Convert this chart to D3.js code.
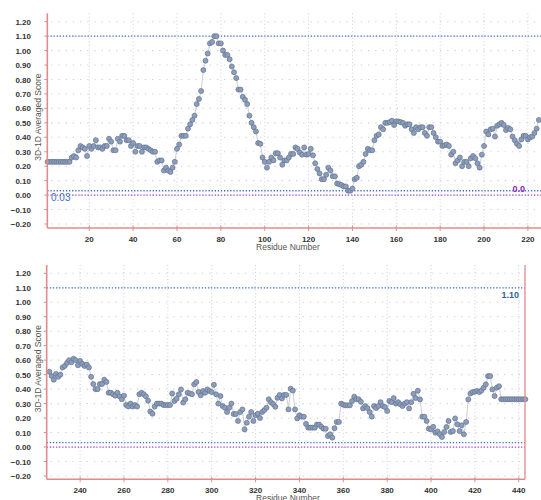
<!DOCTYPE html>
<html>

<head>
    <meta charset="utf-8">
    <style>
    body {
        margin: 0;
        background: #fff;
    }

    svg text {
        font-family: "Liberation Sans", Arial, sans-serif;
    }

    .tick-label {
        font-size: 8px;
        font-weight: bold;
        fill: #333;
    }

    .axis-title {
        font-size: 8.5px;
        fill: #555;
    }
    </style>
</head>

<body>
    <script src="https://d3js.org/d3.v7.min.js"></script>
    <script>
    // 3D-1D averaged score per residue, top panel starts at residue 1, bottom at 226
    var topStart = 1;
    var topScores = [
        0.23, 0.23, 0.23, 0.23, 0.23, 0.23, 0.23, 0.23, 0.23, 0.23, 0.23,
        0.26, 0.27, 0.26, 0.31, 0.34, 0.33, 0.32, 0.27, 0.34, 0.32,
        0.34, 0.38, 0.33, 0.33, 0.32, 0.34, 0.34, 0.39, 0.37, 0.31,
        0.31, 0.39, 0.37, 0.41, 0.41, 0.38, 0.38, 0.34, 0.36, 0.30,
        0.34, 0.34, 0.30, 0.33, 0.33, 0.32, 0.31, 0.30, 0.30, 0.23,
        0.24, 0.24, 0.17, 0.19, 0.17, 0.16, 0.19, 0.23, 0.32, 0.35,
        0.41, 0.41, 0.41, 0.46, 0.49, 0.52, 0.55, 0.63, 0.665, 0.72,
        0.865, 0.93, 0.98, 1.05, 1.06, 1.10, 1.10, 1.05, 1.05, 1.00,
        0.97, 0.97, 0.94, 0.89, 0.85, 0.81, 0.73, 0.73, 0.68, 0.66,
        0.63, 0.55, 0.50, 0.47, 0.44, 0.36, 0.355, 0.26, 0.23, 0.19,
        0.23, 0.26, 0.24, 0.29, 0.29, 0.26, 0.21, 0.24, 0.24, 0.26,
        0.285, 0.285, 0.33, 0.32, 0.295, 0.28, 0.33, 0.28, 0.285, 0.32,
        0.275, 0.22, 0.18, 0.15, 0.11, 0.11, 0.14, 0.19, 0.17, 0.13,
        0.13, 0.08, 0.075, 0.07, 0.06, 0.06, 0.03, 0.03, 0.045, 0.11,
        0.12, 0.20, 0.21, 0.23, 0.285, 0.32, 0.31, 0.31, 0.38, 0.41,
        0.42, 0.47, 0.455, 0.50, 0.50, 0.505, 0.515, 0.485, 0.51, 0.51,
        0.505, 0.50, 0.48, 0.49, 0.49, 0.455, 0.43, 0.47, 0.455, 0.47,
        0.47, 0.43, 0.41, 0.47, 0.47, 0.43, 0.40, 0.37, 0.37, 0.34,
        0.345, 0.35, 0.34, 0.28, 0.30, 0.22, 0.24, 0.26, 0.20, 0.23,
        0.23, 0.20, 0.255, 0.27, 0.255, 0.22, 0.19, 0.28, 0.34, 0.44,
        0.42, 0.455, 0.46, 0.405, 0.48, 0.49, 0.50, 0.485, 0.45, 0.465,
        0.455, 0.405, 0.38, 0.355, 0.34, 0.385, 0.41, 0.41, 0.385, 0.40,
        0.405, 0.43, 0.46, 0.52
    ];

    var bottomStart = 226;
    var bottomScores = [
        0.52, 0.49, 0.465, 0.505, 0.485, 0.50, 0.55, 0.56, 0.58, 0.60,
        0.585, 0.61, 0.60, 0.565, 0.595, 0.575, 0.56, 0.57, 0.55, 0.485,
        0.435, 0.40, 0.40, 0.435, 0.435, 0.465, 0.45, 0.375, 0.375, 0.365,
        0.355, 0.375, 0.35, 0.33, 0.355, 0.29, 0.28, 0.30, 0.28, 0.29,
        0.28, 0.365, 0.375, 0.365, 0.35, 0.32, 0.245, 0.23, 0.28, 0.30,
        0.30, 0.30, 0.29, 0.29, 0.29, 0.29, 0.37, 0.318, 0.334, 0.364,
        0.398, 0.307, 0.33, 0.375, 0.37, 0.365, 0.433, 0.449, 0.38, 0.357,
        0.387, 0.375, 0.398, 0.387, 0.38, 0.43, 0.364, 0.30, 0.352, 0.283,
        0.272, 0.242, 0.272, 0.30, 0.228, 0.228, 0.18, 0.242, 0.26, 0.122,
        0.168, 0.21, 0.242, 0.18, 0.219, 0.23, 0.20, 0.242, 0.255, 0.272,
        0.33, 0.31, 0.297, 0.278, 0.34, 0.36, 0.336, 0.36, 0.36, 0.26,
        0.403, 0.39, 0.26, 0.198, 0.219, 0.21, 0.21, 0.16, 0.134, 0.134,
        0.134, 0.134, 0.155, 0.155, 0.14, 0.127, 0.127, 0.076, 0.088, 0.065,
        0.13, 0.173, 0.173, 0.30, 0.292, 0.288, 0.288, 0.288, 0.318, 0.348,
        0.33, 0.33, 0.313, 0.267, 0.283, 0.269, 0.242, 0.21, 0.283, 0.269,
        0.283, 0.31, 0.283, 0.276, 0.249, 0.318, 0.31, 0.338, 0.30, 0.31,
        0.295, 0.283, 0.30, 0.31, 0.267, 0.31, 0.368, 0.338, 0.389, 0.329,
        0.21, 0.21, 0.18, 0.127, 0.122, 0.14, 0.099, 0.108, 0.088, 0.069,
        0.104, 0.138, 0.18, 0.104, 0.11, 0.198, 0.157, 0.11, 0.15, 0.088,
        0.173, 0.329, 0.37, 0.38, 0.382, 0.387, 0.38, 0.39, 0.41, 0.433,
        0.49, 0.49, 0.398, 0.352, 0.41, 0.42, 0.33, 0.33, 0.33, 0.33,
        0.33, 0.33, 0.33, 0.33, 0.33, 0.33, 0.33, 0.33
    ];

    var topTicks = [20, 40, 60, 80, 100, 120, 140, 160, 180, 200, 220];
    var bottomTicks = [240, 260, 280, 300, 320, 340, 360, 380, 400, 420, 440];
    var yTicks = [-0.2, -0.1, 0, 0.1, 0.2, 0.3, 0.4, 0.5, 0.6, 0.7, 0.8, 0.9, 1.0, 1.1, 1.2];

    var upperCutoff = 1.10;
    var lowerCutoff = 0.03;
    var zeroLine = 0.00;

    var width = 541, height = 500;
    var axisColor = "#e08c8c";
    var gridColor = "#c9cfe2";

    var svg = d3.select("body").append("svg")
        .attr("width", width)
        .attr("height", height);

    function drawPanel(scores, start, ticks, frame) {
        var g = svg.append("g");

        var x = d3.scaleLinear()
            .domain(frame.xDomain)
            .range([frame.left, frame.right]);
        var y = d3.scaleLinear()
            .domain([-0.2, 1.2])
            .range([frame.yLow, frame.yHigh]);

        var points = scores.map(function(v, i) {
            return { res: start + i, score: v };
        });

        // grid
        g.append("g").selectAll("line")
            .data(yTicks)
            .enter().append("line")
            .attr("x1", frame.left + 4)
            .attr("x2", frame.right)
            .attr("y1", function(d) { return y(d); })
            .attr("y2", function(d) { return y(d); })
            .attr("stroke", gridColor)
            .attr("stroke-width", 1.1)
            .attr("stroke-dasharray", "1.2,6");

        g.append("g").selectAll("line")
            .data(ticks)
            .enter().append("line")
            .attr("x1", function(d) { return x(d); })
            .attr("x2", function(d) { return x(d); })
            .attr("y1", frame.top)
            .attr("y2", frame.bottom)
            .attr("stroke", gridColor)
            .attr("stroke-width", 1)
            .attr("stroke-dasharray", "1,2.5");

        // reference lines
        var refs = [
            { v: upperCutoff, c: "#3f72c4" },
            { v: lowerCutoff, c: "#3f72c4" },
            { v: zeroLine, c: "#b03fd6" }
        ];
        g.append("g").selectAll("line")
            .data(refs)
            .enter().append("line")
            .attr("x1", frame.left)
            .attr("x2", frame.right)
            .attr("y1", function(d) { return y(d.v); })
            .attr("y2", function(d) { return y(d.v); })
            .attr("stroke", function(d) { return d.c; })
            .attr("stroke-width", 1.3)
            .attr("stroke-dasharray", "1.3,1.8");

        // series
        var line = d3.line()
            .x(function(d) { return x(d.res); })
            .y(function(d) { return y(d.score); });

        g.append("path")
            .datum(points)
            .attr("d", line)
            .attr("fill", "none")
            .attr("stroke", "#cfcfcf")
            .attr("stroke-width", 1);

        g.append("g").selectAll("circle")
            .data(points)
            .enter().append("circle")
            .attr("cx", function(d) { return x(d.res); })
            .attr("cy", function(d) { return y(d.score); })
            .attr("r", 2.5)
            .attr("fill", "#8b9ebd")
            .attr("stroke", "#64728c")
            .attr("stroke-width", 0.7);

        // axes
        g.append("line")
            .attr("x1", frame.left).attr("x2", frame.left)
            .attr("y1", frame.top).attr("y2", frame.bottom)
            .attr("stroke", axisColor).attr("stroke-width", 1.6);
        g.append("line")
            .attr("x1", frame.left).attr("x2", frame.right)
            .attr("y1", frame.bottom).attr("y2", frame.bottom)
            .attr("stroke", axisColor).attr("stroke-width", 1.6);
        if (frame.rightEdge) {
            g.append("line")
                .attr("x1", frame.right).attr("x2", frame.right)
                .attr("y1", frame.top).attr("y2", frame.bottom)
                .attr("stroke", axisColor).attr("stroke-width", 1.3);
        }

        g.append("g").selectAll("line")
            .data(yTicks)
            .enter().append("line")
            .attr("x1", frame.left - 3)
            .attr("x2", frame.left)
            .attr("y1", function(d) { return y(d); })
            .attr("y2", function(d) { return y(d); })
            .attr("stroke", axisColor)
            .attr("stroke-width", 1);

        g.append("g").selectAll("text")
            .data(yTicks)
            .enter().append("text")
            .attr("class", "tick-label")
            .attr("x", 31)
            .attr("y", function(d) { return y(d) + 3; })
            .attr("text-anchor", "end")
            .text(function(d) { return d3.format(".2f")(d); });

        g.append("g").selectAll("line")
            .data(ticks)
            .enter().append("line")
            .attr("x1", function(d) { return x(d); })
            .attr("x2", function(d) { return x(d); })
            .attr("y1", frame.bottom - 2.5)
            .attr("y2", frame.bottom + 3)
            .attr("stroke", axisColor)
            .attr("stroke-width", 1);

        g.append("g").selectAll("text")
            .data(ticks)
            .enter().append("text")
            .attr("class", "tick-label")
            .attr("x", function(d) { return x(d); })
            .attr("y", frame.bottom + 13.5)
            .attr("text-anchor", "middle")
            .text(function(d) { return d; });

        g.append("text")
            .attr("class", "axis-title")
            .attr("text-anchor", "middle")
            .attr("transform", "translate(40.5," + ((frame.top + frame.bottom) / 2 - 3.5) + ")rotate(-90)")
            .text("3D-1D Averaged Score");

        g.append("text")
            .attr("class", "axis-title")
            .attr("x", 288)
            .attr("y", frame.bottom + 21.5)
            .attr("text-anchor", "middle")
            .text("Residue Number");

        return { x: x, y: y };
    }

    var topPanel = drawPanel(topScores, topStart, topTicks, {
        left: 47.3, right: 545, top: 13.3, bottom: 228,
        yLow: 224, yHigh: 21.7,
        xDomain: [0.86, 227.8],
        rightEdge: false
    });

    var bottomPanel = drawPanel(bottomScores, bottomStart, bottomTicks, {
        left: 46.7, right: 525, top: 265, bottom: 479.3,
        yLow: 476, yHigh: 273.3,
        xDomain: [224.76, 442.86],
        rightEdge: true
    });

    svg.append("text")
        .attr("x", 51)
        .attr("y", topPanel.y(lowerCutoff) + 10)
        .attr("fill", "#3f72c4")
        .style("font-size", "10px")
        .text("0.03");

    svg.append("text")
        .attr("x", 525)
        .attr("y", topPanel.y(zeroLine) - 3)
        .attr("text-anchor", "end")
        .attr("fill", "#8a25b8")
        .style("font-size", "9px")
        .style("font-weight", "bold")
        .text("0.0");

    svg.append("text")
        .attr("x", 519)
        .attr("y", bottomPanel.y(upperCutoff) + 10)
        .attr("text-anchor", "end")
        .attr("fill", "#2f5f9e")
        .style("font-size", "9px")
        .style("font-weight", "bold")
        .text("1.10");

    </script>
</body>

</html>
